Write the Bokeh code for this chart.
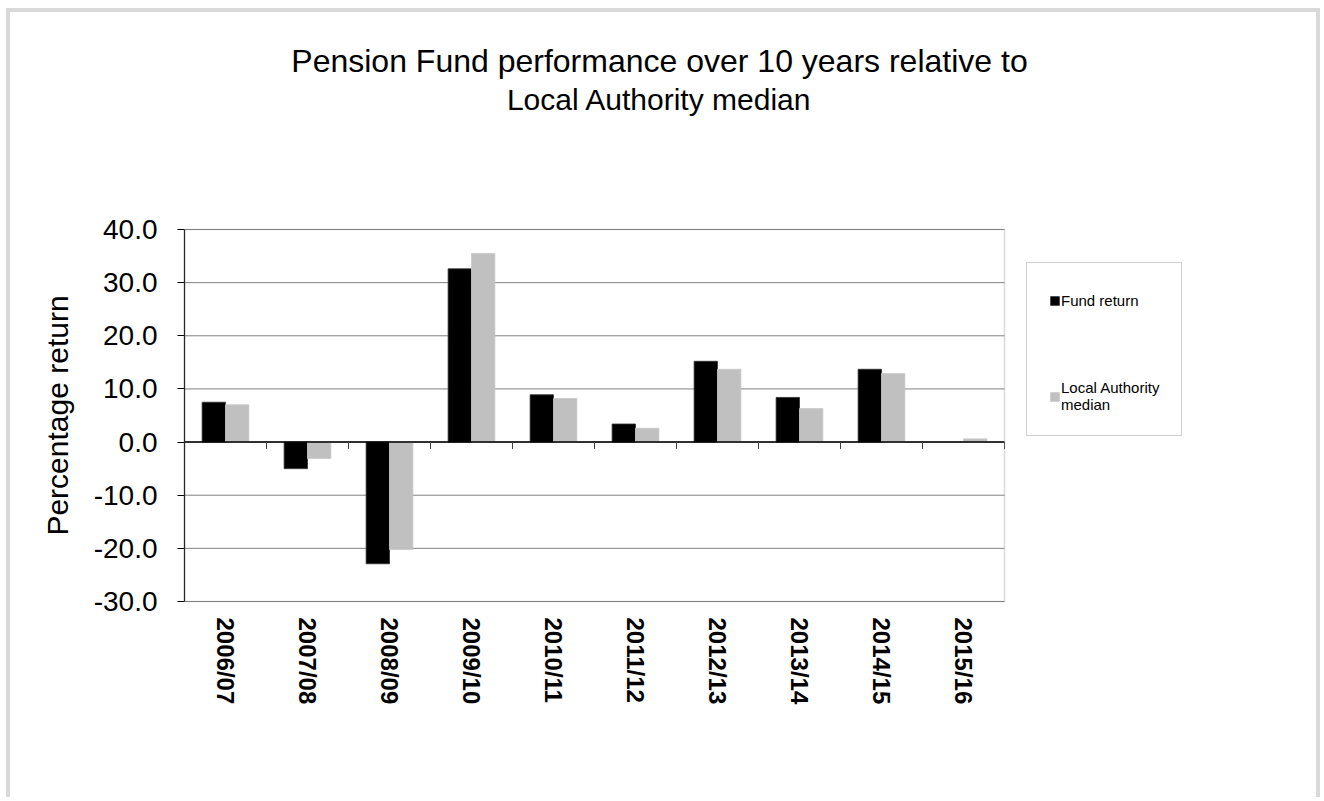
from bokeh.plotting import figure
from bokeh.models import (ColumnDataSource, Range1d, FixedTicker, NumeralTickFormatter,
                          Label, Legend, LegendItem, BoxAnnotation)
from bokeh.transform import dodge
from bokeh.embed import file_html
from bokeh.resources import INLINE

years = ["2006/07", "2007/08", "2008/09", "2009/10", "2010/11",
         "2011/12", "2012/13", "2013/14", "2014/15", "2015/16"]
fund_return = [7.5, -5.0, -22.9, 32.6, 8.9, 3.4, 15.2, 8.4, 13.7, float("nan")]
la_median = [7.0, -3.1, -20.2, 35.5, 8.2, 2.6, 13.7, 6.3, 12.9, 0.6]
y_ticks = [-30, -20, -10, 0, 10, 20, 30, 40]

FONT = "Liberation Sans"

# ---- layout constants (pixels on the canvas) ----
W, H = 1314, 789                 # canvas size
PLOT_LEFT, PLOT_TOP = 174, 217   # plot area position on the canvas
PLOT_W, PLOT_H = 820, 372        # plot area size

n = len(years)
y_lo, y_hi = min(y_ticks), max(y_ticks)
px_x = PLOT_W / n
px_y = PLOT_H / (y_hi - y_lo)
x_start = -PLOT_LEFT / px_x
x_end = x_start + W / px_x
y_end = y_hi + PLOT_TOP / px_y
y_start = y_end - H / px_y

xpos = [i + 0.5 for i in range(n)]
source = ColumnDataSource(data=dict(x=xpos, year=years, fund=fund_return, la=la_median))

p = figure(width=W, height=H, output_backend="svg", toolbar_location=None,
           x_range=Range1d(x_start, x_end), y_range=Range1d(y_start, y_end),
           min_border=0)
p.styles = {"border-top": "4px solid #d9d9d9", "border-left": "4px solid #d9d9d9",
            "border-right": "4px solid #d9d9d9", "margin-left": "6px", "margin-top": "8px"}
p.background_fill_color = "white"
p.border_fill_color = "white"
p.outline_line_color = None
p.xgrid.grid_line_color = None
p.ygrid.grid_line_color = None

# plot-area gridlines (from the y ticks)
p.segment(x0=[0] * len(y_ticks), x1=[n] * len(y_ticks), y0=y_ticks, y1=y_ticks,
          line_color="#808080", line_width=1)

# y axis at x = 0
p.yaxis.fixed_location = 0
p.yaxis.bounds = (y_lo, y_hi)
p.yaxis.ticker = FixedTicker(ticks=y_ticks)
p.yaxis.formatter = NumeralTickFormatter(format="0.0")
p.yaxis.axis_line_color = "black"
p.yaxis.axis_line_width = 1.2
p.yaxis.major_tick_line_color = "black"
p.yaxis.major_tick_out = 7
p.yaxis.major_tick_in = 0
p.yaxis.minor_tick_line_color = None
p.yaxis.major_label_text_font = FONT
p.yaxis.major_label_text_font_size = "28px"
p.yaxis.major_label_text_color = "black"
p.yaxis.major_label_standoff = 20
p.yaxis.axis_label = "Percentage return"
p.yaxis.axis_label_text_font = FONT
p.yaxis.axis_label_text_font_size = "30px"
p.yaxis.axis_label_text_font_style = "normal"
p.yaxis.axis_label_text_color = "black"
p.yaxis.axis_label_standoff = 17

# x axis (category labels) at y = bottom of plot area
p.xaxis.fixed_location = y_lo
p.xaxis.bounds = (0, n)
p.xaxis.ticker = FixedTicker(ticks=xpos)
p.xaxis.major_label_overrides = {x: y for x, y in zip(xpos, years)}
p.xaxis.axis_line_color = None
p.xaxis.major_tick_line_color = None
p.xaxis.minor_tick_line_color = None
p.xaxis.major_label_orientation = "vertical"
p.xaxis.major_label_text_font = FONT
p.xaxis.major_label_text_font_size = "24px"
p.xaxis.major_label_text_font_style = "bold"
p.xaxis.major_label_text_color = "black"
p.xaxis.major_label_standoff = 10

# bars
r_fund = p.vbar(x=dodge("x", -0.1425), top="fund", width=0.285,
                source=source, fill_color="black", line_color="#303030", line_width=0.8)
r_la = p.vbar(x=dodge("x", 0.1425), top="la", width=0.285,
              source=source, fill_color="#c0c0c0", line_color="#c8c8c8", line_width=0.8)

# plot-area border
p.add_layout(BoxAnnotation(left=0, right=n, bottom=y_lo, top=y_hi,
                           fill_alpha=0, line_color="#868686", line_width=1.5))

# zero line and category boundary ticks along it
p.segment(x0=[0], x1=[n], y0=[0], y1=[0], line_color="black", line_width=1.5)
bounds = list(range(n + 1))
p.segment(x0=bounds, x1=bounds, y0=[0] * len(bounds), y1=[-7 / px_y] * len(bounds),
          line_color="#404040", line_width=1)

# title (two centred lines)
title_x = (659 - 10 - PLOT_LEFT) / px_x
p.add_layout(Label(x=title_x, y=y_hi + (PLOT_TOP - 48) / px_y,
                   text="Pension Fund performance over 10 years relative to",
                   text_font=FONT, text_font_size="32px", text_align="center",
                   text_baseline="alphabetic", text_color="black"))
p.add_layout(Label(x=title_x, y=y_hi + (PLOT_TOP - 87) / px_y,
                   text="Local Authority median",
                   text_font=FONT, text_font_size="30px", text_align="center",
                   text_baseline="alphabetic", text_color="black"))

legend = Legend(items=[LegendItem(label="Fund return", renderers=[r_fund]),
                       LegendItem(label="Local Authority\nmedian", renderers=[r_la])],
                location=(1016, H - 424), orientation="vertical",
                title=" ", title_text_font_size="5px", title_standoff=1,
                padding=22, spacing=70, margin=0,
                glyph_width=11, glyph_height=11, label_height=11, label_standoff=1,
                label_text_font=FONT, label_text_font_size="15px", label_text_color="black",
                border_line_color="#a6a6a6", border_line_width=1,
                background_fill_color="white", background_fill_alpha=1)
p.add_layout(legend)

open("out.html", "w").write(file_html(p, INLINE))
